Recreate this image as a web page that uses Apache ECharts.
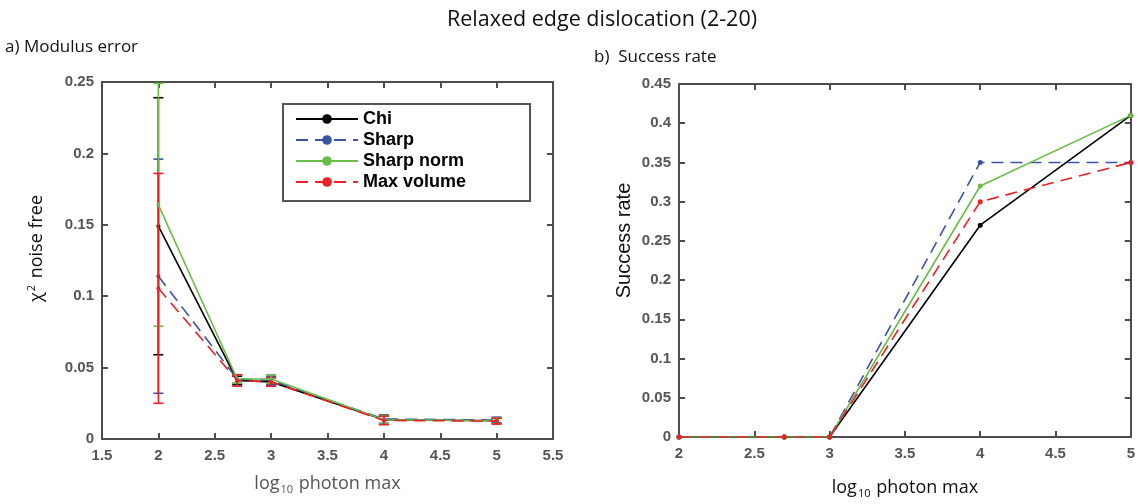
<!DOCTYPE html>
<html><head><meta charset="utf-8">
<script src="https://cdn.jsdelivr.net/npm/echarts@6/dist/echarts.min.js"></script>
<style>html,body{margin:0;padding:0;background:#fff}#c{width:1138px;height:504px}</style>
</head><body><div id="c"></div>
<script>
// ---- data ----
const xVals = [2, 2.699, 3, 4, 5];
const seriesNames = ['Chi', 'Sharp', 'Sharp norm', 'Max volume'];
const chiErrVal   = [0.149, 0.041, 0.040, 0.0135, 0.0128];
const sharpErrVal = [0.114, 0.042, 0.041, 0.0140, 0.0133];
const normErrVal  = [0.164, 0.042, 0.042, 0.0135, 0.0128];
const maxErrVal   = [0.1055, 0.041, 0.040, 0.0130, 0.0125];
const chiErrBar   = [0.090, 0.003, 0.003, 0.003, 0.002];
const sharpErrBar = [0.082, 0.003, 0.003, 0.003, 0.002];
const normErrBar  = [0.085, 0.003, 0.003, 0.003, 0.002];
const maxErrBar   = [0.0805, 0.004, 0.003, 0.003, 0.002];
const chiSucc   = [0, 0, 0, 0.27, 0.41];
const sharpSucc = [0, 0, 0, 0.35, 0.35];
const normSucc  = [0, 0, 0, 0.32, 0.41];
const maxSucc   = [0, 0, 0, 0.30, 0.35];

const colors = ['#000000', '#3a53a4', '#6abd45', '#ee2024'];
const dashed = [false, true, false, true];
const errVals = [chiErrVal, sharpErrVal, normErrVal, maxErrVal];
const errBars = [chiErrBar, sharpErrBar, normErrBar, maxErrBar];
const succVals = [chiSucc, sharpSucc, normSucc, maxSucc];

const axisCol = '#4d4d4d';
const labelStyle = {color: '#555', fontFamily: 'Liberation Sans', fontWeight: 'bold', fontSize: 15};
const fmt = v => String(+v.toFixed(2));

function mkX(gi, min, max, pos, show) {
  return {
    gridIndex: gi, type: 'value', min: min, max: max, interval: 0.5, position: pos,
    axisLine: {show: true, onZero: false, lineStyle: {color: axisCol, width: 2}},
    axisTick: {show: true, inside: true, length: 6, lineStyle: {color: axisCol, width: 2}},
    axisLabel: Object.assign({show: show, margin: 9, formatter: fmt}, labelStyle),
    splitLine: {show: false}
  };
}
function mkY(gi, max, interval, pos, show) {
  return {
    gridIndex: gi, type: 'value', min: 0, max: max, interval: interval, position: pos,
    axisLine: {show: true, onZero: false, lineStyle: {color: axisCol, width: 2}},
    axisTick: {show: true, inside: true, length: 6, lineStyle: {color: axisCol, width: 2}},
    axisLabel: Object.assign({show: show, margin: 8, formatter: fmt}, labelStyle),
    splitLine: {show: false}
  };
}

const xAxes = [mkX(0, 1.5, 5.5, 'bottom', true), mkX(0, 1.5, 5.5, 'top', false),
               mkX(1, 2, 5, 'bottom', true), mkX(1, 2, 5, 'top', false)];
const yAxes = [mkY(0, 0.25, 0.05, 'left', true), mkY(0, 0.25, 0.05, 'right', false),
               mkY(1, 0.45, 0.05, 'left', true), mkY(1, 0.45, 0.05, 'right', false)];

function richName(col) {
  return {
    t: {fontFamily: 'Open Sans', fontSize: 18, color: col},
    sub: {fontFamily: 'Open Sans', fontSize: 11, color: col, padding: [11, 1, 0, 1]},
    sup: {fontFamily: 'Open Sans', fontSize: 11, color: col, padding: [0, 2, 11, 1]}
  };
}
xAxes[0].name = '{t|log}{sub|10}{t| photon max}';
xAxes[0].nameLocation = 'middle'; xAxes[0].nameGap = 34;
xAxes[0].nameTextStyle = {rich: richName('#555')};
xAxes[2].name = '{t|log}{sub|10}{t| photon max}';
xAxes[2].nameLocation = 'middle'; xAxes[2].nameGap = 40;
xAxes[2].nameTextStyle = {rich: richName('#111')};
yAxes[0].name = '{t|χ}{sup|2}{t| noise free}';
yAxes[0].nameLocation = 'middle'; yAxes[0].nameGap = 54;
yAxes[0].nameTextStyle = {rich: richName('#111'), padding: [0, 0, 0, 24]};
yAxes[2].name = 'Success rate';
yAxes[2].nameLocation = 'middle'; yAxes[2].nameGap = 45;
yAxes[2].nameTextStyle = {fontFamily: 'Liberation Sans', fontSize: 20, color: '#111', padding: [0, 0, 0, 40]};

const series = [];
seriesNames.forEach((n, i) => {
  const ls = {color: colors[i], width: 1.6, type: dashed[i] ? [12, 7] : 'solid'};
  series.push({
    name: n + ' err', type: 'custom', xAxisIndex: 0, yAxisIndex: 0, z: 2 + i,
    clip: true,
    data: xVals.map((x, k) => [x, errVals[i][k], errBars[i][k]]),
    encode: {x: 0, y: 1},
    renderItem: (params, api) => {
      const x = api.value(0), y = api.value(1), e = api.value(2);
      const top = api.coord([x, Math.min(y + e, 0.25)]);
      const bot = api.coord([x, y - e]);
      const ctop = api.coord([x, y + e]);
      const hw = 5;
      const st = {stroke: colors[i], lineWidth: 1.6};
      const cy = Math.max(ctop[1], top[1]);
      return {type: 'group', children: [
        {type: 'line', shape: {x1: top[0], y1: top[1], x2: bot[0], y2: bot[1]}, style: st},
        {type: 'line', shape: {x1: bot[0] - hw, y1: bot[1], x2: bot[0] + hw, y2: bot[1]}, style: st},
        {type: 'line', shape: {x1: ctop[0] - hw, y1: cy, x2: ctop[0] + hw, y2: cy}, style: st}
      ]};
    }
  });
  series.push({
    name: n, type: 'line', xAxisIndex: 0, yAxisIndex: 0, z: 3 + i,
    data: xVals.map((x, k) => [x, errVals[i][k]]),
    symbol: 'circle', symbolSize: 4, showSymbol: true,
    itemStyle: {color: colors[i]}, lineStyle: ls, animation: false
  });
  series.push({
    name: n, type: 'line', xAxisIndex: 2, yAxisIndex: 2, z: 3 + i,
    data: xVals.map((x, k) => [x, succVals[i][k]]),
    symbol: 'circle', symbolSize: 5, showSymbol: true,
    itemStyle: {color: colors[i]}, lineStyle: ls, animation: false
  });
});

const chart = echarts.init(document.getElementById('c'), null, {renderer: 'canvas'});
chart.setOption({
  animation: false,
  backgroundColor: '#fff',
  title: [
    {text: 'Relaxed edge dislocation (2-20)', left: 442, top: 4,
     textStyle: {fontFamily: 'Open Sans', fontWeight: 'normal', fontSize: 21.5, color: '#111'}},
    {text: 'a) Modulus error', left: 0, top: 34,
     textStyle: {fontFamily: 'Open Sans', fontWeight: 'normal', fontSize: 17, color: '#111'}},
    {text: 'b)  Success rate', left: 589, top: 44,
     textStyle: {fontFamily: 'Open Sans', fontWeight: 'normal', fontSize: 17, color: '#111'}}
  ],
  grid: [
    {left: 102, top: 82, width: 451, height: 357},
    {left: 679, top: 84, width: 452, height: 356}
  ],
  xAxis: xAxes,
  yAxis: yAxes,
  legend: {
    data: seriesNames, orient: 'vertical', left: 283, top: 104,
    padding: [6, 64, 10, 12], itemGap: 3, itemWidth: 62, itemHeight: 12,
    borderColor: '#555', borderWidth: 2, backgroundColor: '#fff',
    textStyle: {fontFamily: 'Liberation Sans', fontWeight: 'bold', fontSize: 18, color: '#000'},
    selectedMode: false
  },
  series: series
});
</script></body></html>
